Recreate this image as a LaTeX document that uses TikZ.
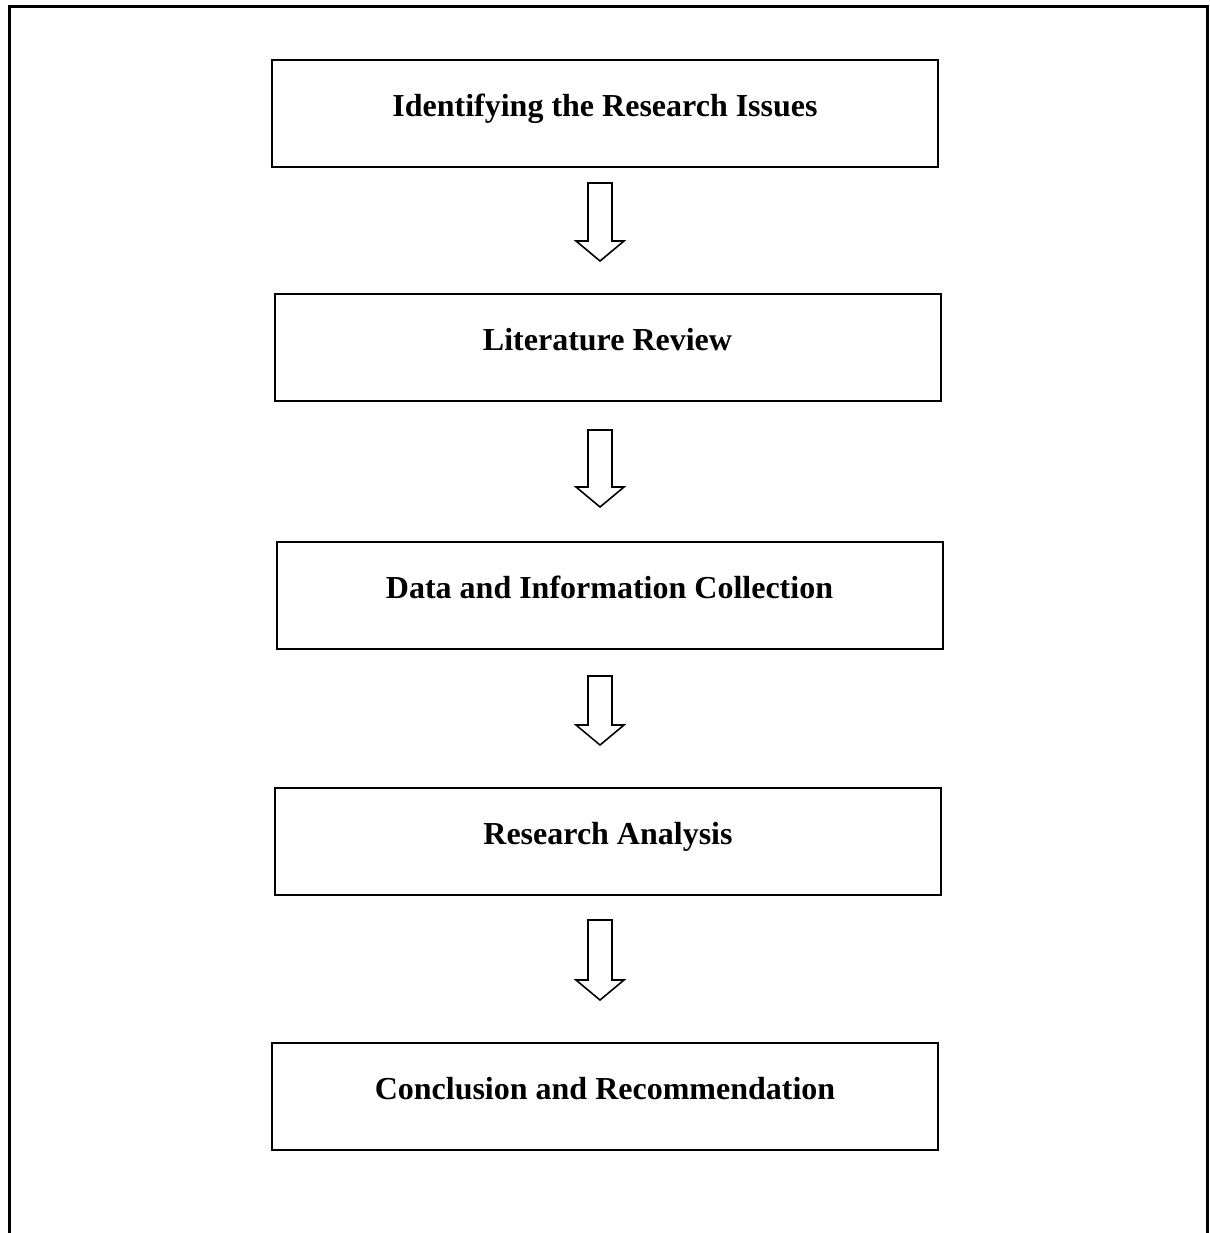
\documentclass[tikz,border=0pt]{standalone}
\usepackage{fontspec}
\setmainfont{Liberation Serif}
\usetikzlibrary{calc}
\begin{document}
\begin{tikzpicture}[x=1pt,y=-1pt,
  stepbox/.style={draw, line width=2pt, minimum width=666pt, minimum height=107pt, inner sep=0pt, text height=20pt, text depth=13pt, font=\fontsize{32}{38}\selectfont\bfseries},
  blockarrow/.style={draw, line width=1.6pt, line join=miter}]
\useasboundingbox (0,0) rectangle (1209,1233);
\draw[line width=3pt] (9,1233) -- (9,7) -- (1207,7) -- (1207,1233);
\node[stepbox] (b1) at (605,113.5) {Identifying the Research Issues};
\node[stepbox] (b2) at (607.5,347) {Literature Review};
\node[stepbox] (b3) at (609.5,595) {Data and Information Collection};
\node[stepbox] (b4) at (608,841) {Research Analysis};
\node[stepbox] (b5) at (605,1096) {Conclusion and Recommendation};
\foreach \t/\h in {183/261, 430/507, 676/745, 920/1000}{
  \draw[blockarrow] (588,\t) -- (612,\t) -- (612,\h-20) -- (624,\h-20) -- (600,\h) -- (576,\h-20) -- (588,\h-20) -- cycle;
}
\end{tikzpicture}
\end{document}
